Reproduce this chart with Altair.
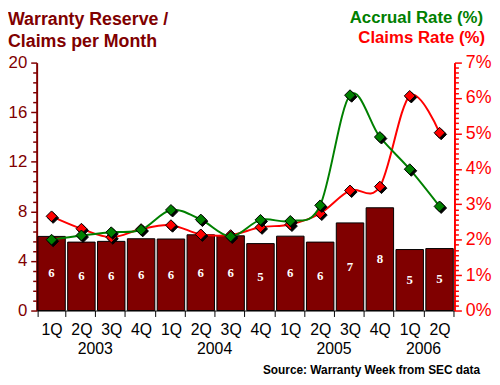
import altair as alt
import pandas as pd

quarters = ["1Q", "2Q", "3Q", "4Q", "1Q", "2Q", "3Q", "4Q", "1Q", "2Q", "3Q", "4Q", "1Q", "2Q"]
years = [2003, 2003, 2003, 2003, 2004, 2004, 2004, 2004, 2005, 2005, 2005, 2005, 2006, 2006]
reserve_months = [5.98, 5.52, 5.58, 5.79, 5.77, 6.11, 6.03, 5.40, 6.00, 5.52, 7.07, 8.29, 4.92, 5.00]
accrual_rate = [2.00, 2.12, 2.21, 2.28, 2.84, 2.57, 2.09, 2.56, 2.53, 2.97, 6.08, 4.90, 3.99, 2.94]
claims_rate = [2.66, 2.31, 2.07, 2.30, 2.41, 2.15, 2.13, 2.35, 2.43, 2.74, 3.39, 3.50, 6.06, 5.02]

year_labels = ["2003", "2004", "2005", "2006"]
year_anchor = ["2Q 2003", "2Q 2004", "2Q 2005", "1Q 2006"]

keys = [f"{q} {y}" for q, y in zip(quarters, years)]
df = pd.DataFrame({
    "key": keys,
    "reserve": reserve_months,
    "accrual": accrual_rate,
    "claims": claims_rate,
})
ydf = pd.DataFrame({"key": year_anchor, "year": year_labels})

W, H = 423, 251
FONT = "Liberation Sans"
DARK = "#800000"
GREEN = "#008000"
RED = "#ff0000"

left_vals = [round(i * 0.8, 1) for i in range(26)]
right_vals = [round(i / 7, 4) for i in range(50)]

xscale = alt.Scale(domain=keys, paddingInner=0.08, paddingOuter=0.04)
xaxis = alt.Axis(title=None, labelExpr="split(datum.label, ' ')[0]", labelAngle=0,
                 labelFont=FONT, labelFontSize=16, labelColor="black",
                 domainColor="black", tickColor="black", tickSize=6,
                 tickBand="extent", labelPadding=5, grid=False)
X = alt.X("key:N", scale=xscale, axis=xaxis, sort=None)

lscale = alt.Scale(domain=[0, 20], nice=False)
lyaxis = alt.Axis(title=None, values=left_vals,
                  labelExpr="abs(datum.value/4 - round(datum.value/4)) < 0.01 ? datum.label : ''",
                  labelOverlap=False, labelFont=FONT, labelFontSize=17, labelColor=DARK,
                  domainColor=DARK, domainWidth=2, tickColor=DARK, tickWidth=1.5,
                  tickSize={"condition": {"test": "abs(datum.value/4 - round(datum.value/4)) < 0.01", "value": 6}, "value": 4},
                  labelPadding=4, grid=False)
ryaxis = alt.Axis(title=None, orient="right", values=right_vals,
                  labelExpr="abs(datum.value - round(datum.value)) < 0.01 ? format(datum.value, '.0f') + '%' : ''",
                  labelOverlap=False, labelFont=FONT, labelFontSize=18, labelColor=RED,
                  domainColor=RED, domainWidth=2, tickColor=RED, tickWidth=1.5,
                  tickSize={"condition": {"test": "abs(datum.value - round(datum.value)) < 0.01", "value": 7}, "value": 4},
                  labelPadding=4, grid=False)

base = alt.Chart(df)

bars = base.mark_bar(color=DARK, stroke="black", strokeWidth=1).encode(
    x=X,
    y=alt.Y("reserve:Q", scale=lscale, axis=lyaxis),
)
bar_text = base.transform_calculate(half="datum.reserve / 2").mark_text(
    color="white", font="Liberation Serif", fontWeight="bold", fontSize=13, baseline="middle"
).encode(
    x=X,
    y=alt.Y("half:Q", scale=lscale, axis=lyaxis),
    text=alt.Text("reserve:Q", format=".0f"),
)
year_text = alt.Chart(ydf).mark_text(
    font=FONT, fontSize=16, color="black", baseline="alphabetic", dx=14
).encode(
    x=X,
    y=alt.value(H + 44),
    text="year:N",
)

one = alt.Data(values=[{}])
title_left = alt.Chart(one).mark_text(
    text=["Warranty Reserve /", "Claims per Month"], font=FONT, fontWeight="bold", fontSize=18,
    color=DARK, align="left", baseline="alphabetic", lineHeight=22
).encode(x=alt.value(-29), y=alt.value(-38))
title_acc = alt.Chart(one).mark_text(
    text="Accrual Rate (%)", font=FONT, fontWeight="bold", fontSize=17,
    color=GREEN, align="right", baseline="alphabetic"
).encode(x=alt.value(452), y=alt.value(-40))
title_clm = alt.Chart(one).mark_text(
    text="Claims Rate (%)", font=FONT, fontWeight="bold", fontSize=17,
    color=RED, align="right", baseline="alphabetic"
).encode(x=alt.value(454), y=alt.value(-20))
source = alt.Chart(one).mark_text(
    text="Source: Warranty Week from SEC data", font=FONT, fontWeight="bold", fontSize=12,
    color="black", align="right", baseline="alphabetic"
).encode(x=alt.value(449), y=alt.value(H + 64))

left = alt.layer(bars, bar_text, year_text, title_left, title_acc, title_clm, source)

rscale = alt.Scale(domain=[0, 7], nice=False)
SHADOW = "M0.3,-0.7L1.3,0.3L0.3,1.3L-0.7,0.3Z"

def series(field, color):
    line = base.mark_line(color=color, strokeWidth=2, interpolate="cardinal").encode(
        x=X, y=alt.Y(f"{field}:Q", scale=rscale, axis=ryaxis))
    shadow = base.mark_point(shape=SHADOW, filled=True, fill="black", stroke="black",
                             strokeWidth=1, size=120, opacity=1).encode(
        x=X, y=alt.Y(f"{field}:Q", scale=rscale, axis=ryaxis))
    pts = base.mark_point(shape="diamond", filled=True, fill=color, stroke="black",
                          strokeWidth=1, size=120, opacity=1).encode(
        x=X, y=alt.Y(f"{field}:Q", scale=rscale, axis=ryaxis))
    return [line, shadow, pts]

right = alt.layer(*series("claims", RED), *series("accrual", GREEN))

chart = alt.layer(left, right).resolve_scale(y="independent").properties(
    width=W, height=H,
    autosize=alt.AutoSizeParams(type="none"),
    padding={"left": 29, "top": 53, "right": 38, "bottom": 65},
).configure_view(stroke=None)

chart.save("out.html", embed_options={"renderer": "svg", "actions": False})
